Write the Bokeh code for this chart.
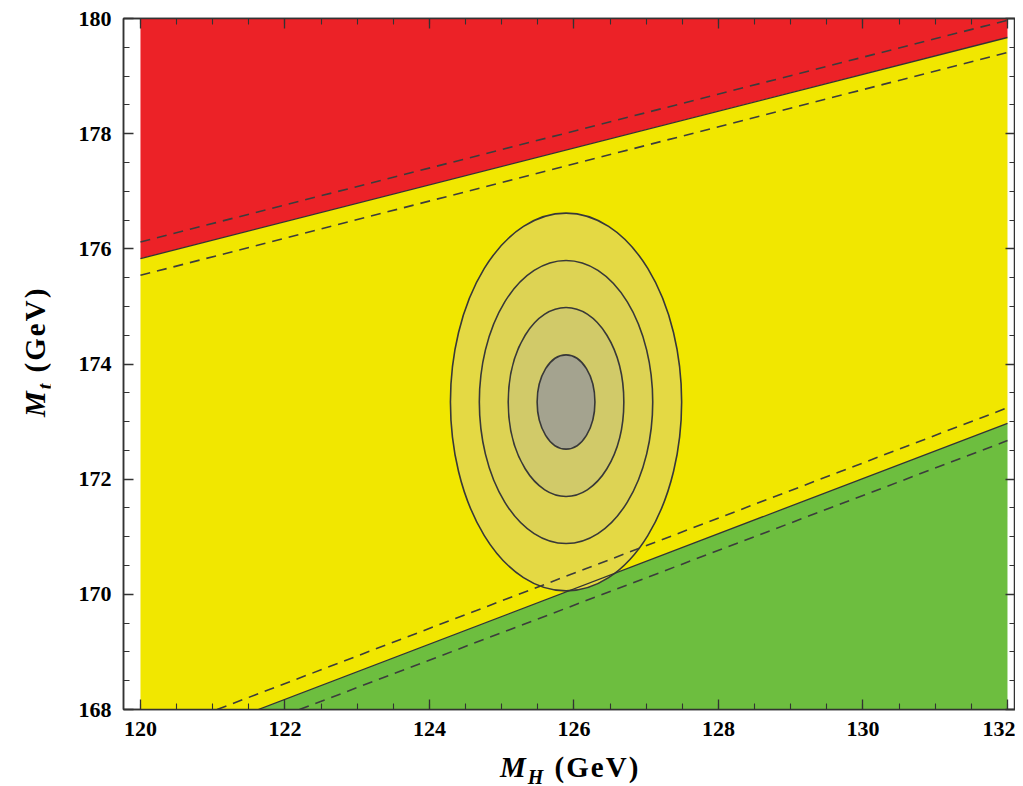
from bokeh.plotting import figure
from bokeh.models import Range1d, LinearAxis, SingleIntervalTicker, Div
from bokeh.layouts import row, column
from bokeh.embed import file_html
from bokeh.resources import INLINE

# ---- data ----
mh_edges = [120.0, 132.0]
# absolute stability boundary (central, +/- band)
mt_stab = [175.83, 179.67]
mt_stab_hi = [176.12, 179.97]
mt_stab_lo = [175.54, 179.41]
# metastability / instability boundary
mh_meta = [121.63, 132.0]
mt_meta = [168.0, 172.97]
mh_meta_hi = [121.06, 132.0]
mt_meta_hi = [168.0, 173.24]
mh_meta_lo = [122.20, 132.0]
mt_meta_lo = [168.0, 172.67]
# measured point and uncertainties
mh_center = 125.89
mt_center = 173.34
sigma_mh = 0.40
sigma_mt = 0.82
n_sigma = [4, 3, 2, 1]
ring_colors = ["#e4d944", "#ddd354", "#d1ca69", "#a4a38f"]

tick_interval = 2
y_lo, y_hi = 168.0, 180.0

FONT = "Liberation Serif"
DARK = "#333333"
DASH = "#3c3c3c"

TOTAL_W, TOTAL_H = 1015, 782
YLAB_W = 50
FIG_H = 745

p = figure(width=TOTAL_W - YLAB_W, height=FIG_H, output_backend="svg", toolbar_location=None,
           x_range=Range1d(119.765, 132.111), y_range=Range1d(y_lo, y_hi),
           min_border_left=73, min_border_right=0, min_border_top=18,
           min_border_bottom=36, x_axis_location=None, y_axis_location=None)
p.grid.visible = False
p.background_fill_color = "white"
p.border_fill_color = "white"
p.outline_line_color = DARK
p.outline_line_width = 1.5

# regions
red_x = [mh_edges[0], mh_edges[1], mh_edges[1], mh_edges[0]]
red_y = [mt_stab[0], mt_stab[1], y_hi, y_hi]
yel_x = [mh_edges[0], mh_meta[0], mh_edges[1], mh_edges[1], mh_edges[0]]
yel_y = [y_lo, y_lo, mt_meta[1], mt_stab[1], mt_stab[0]]
grn_x = [mh_meta[0], mh_edges[1], mh_edges[1]]
grn_y = [y_lo, y_lo, mt_meta[1]]
p.patch(red_x, red_y, fill_color="#ec2227", line_color=None)
p.patch(yel_x, yel_y, fill_color="#f1e700", line_color=None)
p.patch(grn_x, grn_y, fill_color="#6dbe3f", line_color=None)

# ellipses (1-4 sigma)
p.ellipse(x=[mh_center] * len(n_sigma), y=[mt_center] * len(n_sigma),
          width=[2 * n * sigma_mh for n in n_sigma],
          height=[2 * n * sigma_mt for n in n_sigma],
          fill_color=ring_colors, line_color="#383838", line_width=1.6)

# boundary lines
p.line(mh_edges, mt_stab, line_color=DARK, line_width=1.3)
p.line(mh_edges, mt_stab_hi, line_color=DASH, line_width=1.6, line_dash="10 7")
p.line(mh_edges, mt_stab_lo, line_color=DASH, line_width=1.6, line_dash="10 7")
p.line(mh_meta, mt_meta, line_color=DARK, line_width=1.3)
p.line(mh_meta_hi, mt_meta_hi, line_color=DASH, line_width=1.6, line_dash="10 7")
p.line(mh_meta_lo, mt_meta_lo, line_color=DASH, line_width=1.6, line_dash="10 7")


def make_axis(show_labels, standoff=10):
    ax = LinearAxis(ticker=SingleIntervalTicker(interval=tick_interval, num_minor_ticks=4))
    ax.axis_line_color = DARK
    ax.axis_line_width = 1.5
    ax.major_tick_line_color = DARK
    ax.minor_tick_line_color = DARK
    ax.major_tick_line_width = 1.3
    ax.minor_tick_line_width = 1.1
    ax.major_tick_in = 10
    ax.major_tick_out = 0
    ax.minor_tick_in = 6
    ax.minor_tick_out = 0
    if show_labels:
        ax.major_label_text_font = FONT
        ax.major_label_text_font_style = "bold"
        ax.major_label_text_font_size = "22px"
        ax.major_label_text_color = "black"
        ax.major_label_standoff = standoff
    else:
        ax.major_label_text_color = None
        ax.major_label_standoff = 0
    return ax


p.add_layout(make_axis(True, 12), "below")
p.add_layout(make_axis(True, 12), "left")
p.add_layout(make_axis(False), "above")
p.add_layout(make_axis(False), "right")

# axis titles as HTML (mixed bold/italic with subscripts)
title_style = ("font-family:'Liberation Serif'; font-weight:bold; font-size:29px; "
               "line-height:28px; white-space:nowrap; color:black; letter-spacing:2px;")
x_title = Div(width=TOTAL_W - YLAB_W, height=TOTAL_H - FIG_H, margin=0, text=(
    "<div style='position:relative; width:%dpx; height:%dpx;'>"
    "<span style=\"position:absolute; left:450px; top:8px; %s\">"
    "<i>M</i><sub style='font-size:20px; line-height:0;'><i>H</i></sub> (GeV)</span></div>"
    % (TOTAL_W - YLAB_W, TOTAL_H - FIG_H, title_style)))
y_title = Div(width=YLAB_W, height=TOTAL_H, margin=0, text=(
    "<div style='position:relative; width:%dpx; height:%dpx;'>"
    "<span style=\"position:absolute; left:21px; top:417px; transform-origin:0 0; "
    "transform:rotate(-90deg); %s\">"
    "<i>M</i><sub style='font-size:20px; line-height:0;'><i>t</i></sub> (GeV)</span></div>"
    % (YLAB_W, TOTAL_H, title_style)))

layout = row(y_title, column(p, x_title, spacing=0), spacing=0)

open("out.html", "w").write(file_html(layout, INLINE))
